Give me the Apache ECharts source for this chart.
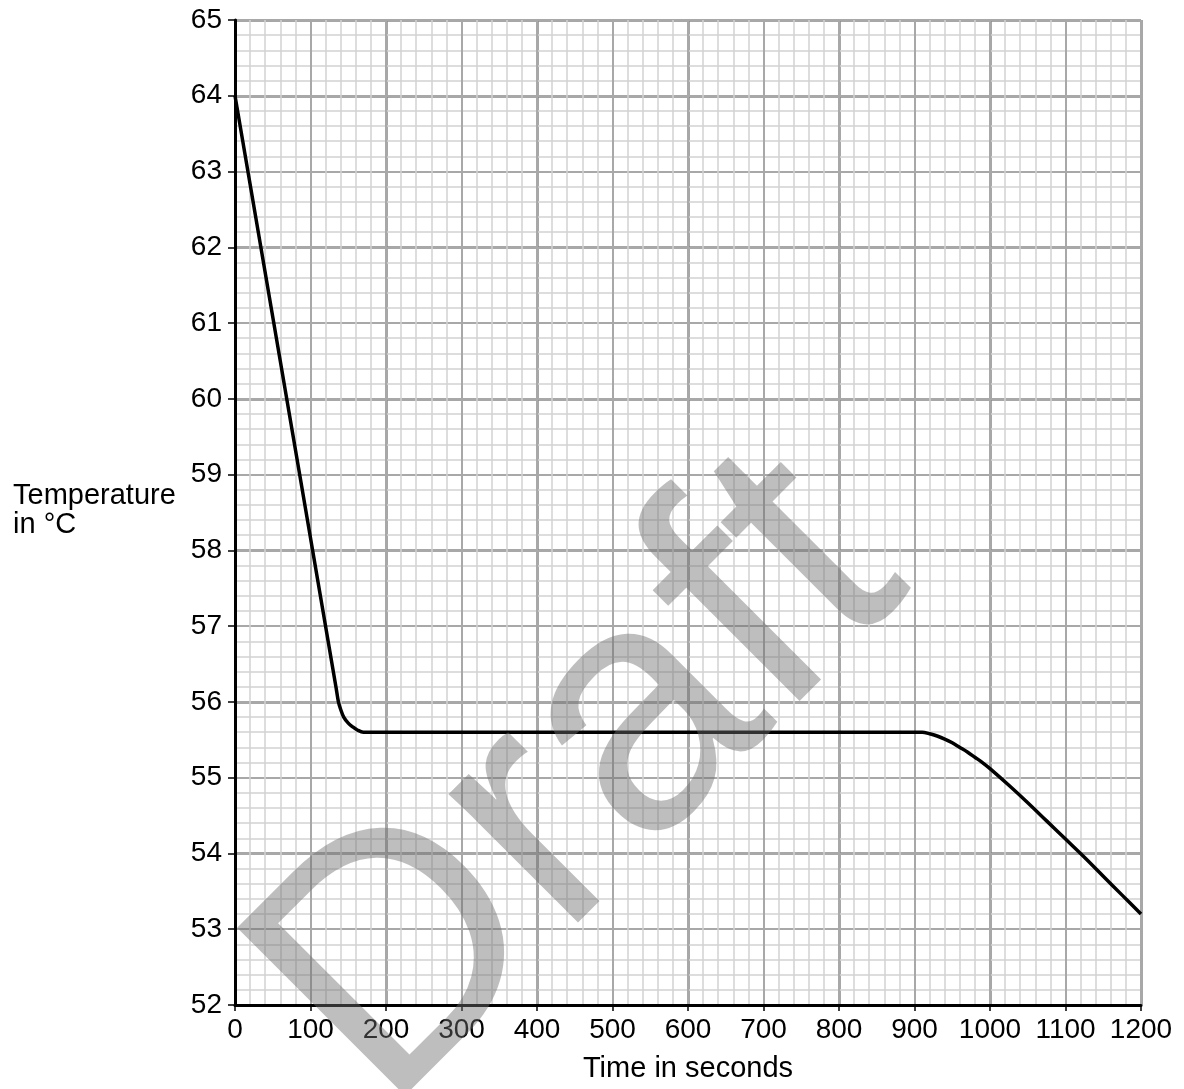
<!DOCTYPE html>
<html>
<head>
<meta charset="utf-8">
<script src="https://cdn.jsdelivr.net/npm/echarts@6/dist/echarts.min.js"></script>
<style>
html,body{margin:0;padding:0;background:#fff;}
#chart{width:1184px;height:1089px;}
</style>
</head>
<body>
<div id="chart"></div>
<script>
// Data
const timeSeconds = [0, 134, 137, 140, 144, 150, 156, 162, 170, 900, 910, 920, 930, 940, 950, 960, 970, 980, 990, 1000, 1025, 1050, 1075, 1100, 1125, 1150, 1175, 1200];
const temperatureC = [64.0, 56.18, 56.0, 55.9, 55.8, 55.72, 55.67, 55.63, 55.6, 55.6, 55.6, 55.58, 55.55, 55.51, 55.46, 55.40, 55.34, 55.27, 55.2, 55.12, 54.9, 54.67, 54.43, 54.19, 53.95, 53.7, 53.45, 53.2];
const xTicks = [0, 100, 200, 300, 400, 500, 600, 700, 800, 900, 1000, 1100, 1200];
const yTicks = [52, 53, 54, 55, 56, 57, 58, 59, 60, 61, 62, 63, 64, 65];
const xTitle = 'Time in seconds';
const yTitle = ['Temperature', 'in °C'];
const watermark = 'Draft';

const FONT = '"Liberation Sans", Arial, Helvetica, sans-serif';
const chart = echarts.init(document.getElementById('chart'), null, {renderer: 'canvas'});

const pts = timeSeconds.map((t, i) => [t, temperatureC[i]]);
const xMin = xTicks[0], xMax = xTicks[xTicks.length - 1];
const yMin = yTicks[0], yMax = yTicks[yTicks.length - 1];

const gridCfg = {left: 235, right: 43, top: 20, bottom: 84, containLabel: false, outerBoundsMode: 'none'};

const option = {
  animation: false,
  backgroundColor: '#ffffff',
  grid: [Object.assign({}, gridCfg)],
  xAxis: [
    {
      type: 'value', min: xMin, max: xMax, interval: 100,
      name: xTitle, nameLocation: 'middle', nameGap: 49,
      nameTextStyle: {fontSize: 29, color: '#000', fontFamily: FONT},
      axisLine: {show: true, onZero: false, lineStyle: {color: '#000', width: 3}},
      axisTick: {show: true, length: 6, lineStyle: {color: '#000', width: 1.5}},
      axisLabel: {fontSize: 28, color: '#000', fontFamily: FONT, margin: 11, formatter: v => String(v)},
      splitLine: {show: true, lineStyle: {color: '#a8a8a8', width: 2}},
      minorTick: {show: false, splitNumber: 5},
      minorSplitLine: {show: true, lineStyle: {color: '#d2d2d2', width: 1.5}},
      z: 5
    },
    {
      type: 'value', min: xMin, max: xMax, interval: 200, position: 'bottom',
      axisLine: {show: false}, axisTick: {show: false}, axisLabel: {show: false},
      splitLine: {show: true, lineStyle: {color: '#8a8a8a', width: 2.5}},
      z: 1
    }
  ],
  yAxis: [
    {
      type: 'value', min: yMin, max: yMax, interval: 1,
      axisLine: {show: true, onZero: false, lineStyle: {color: '#000', width: 3}},
      axisTick: {show: true, length: 7, lineStyle: {color: '#000', width: 1.5}},
      axisLabel: {fontSize: 28, color: '#000', fontFamily: FONT, margin: 13},
      splitLine: {show: true, lineStyle: {color: '#a8a8a8', width: 2}},
      minorTick: {show: false, splitNumber: 5},
      minorSplitLine: {show: true, lineStyle: {color: '#d2d2d2', width: 1.5}},
      z: 5
    },
    {
      type: 'value', min: yMin, max: yMax, interval: 2, position: 'left',
      axisLine: {show: false}, axisTick: {show: false}, axisLabel: {show: false},
      splitLine: {show: true, lineStyle: {color: '#8a8a8a', width: 2.5}},
      z: 1
    }
  ],
  series: [
    {
      type: 'line', xAxisIndex: 0, yAxisIndex: 0,
      data: pts, showSymbol: false, symbol: 'none',
      smooth: 0.3,
      lineStyle: {color: '#000', width: 3.5},
      z: 10
    }
  ],
  graphic: [
    {
      type: 'text', x: 13, y: 481, z: 100,
      style: {text: yTitle.join('\n'), font: '29px ' + FONT, fill: '#000', lineHeight: 29, textVerticalAlign: 'top'}
    },
    {
      type: 'text', x: 582, y: 784, rotation: Math.PI / 4, z: 100,
      style: {text: watermark, font: '345px ' + FONT, fill: 'rgba(110,110,110,0.45)', textAlign: 'center', textVerticalAlign: 'middle'}
    }
  ]
};
chart.setOption(option);
</script>
</body>
</html>
